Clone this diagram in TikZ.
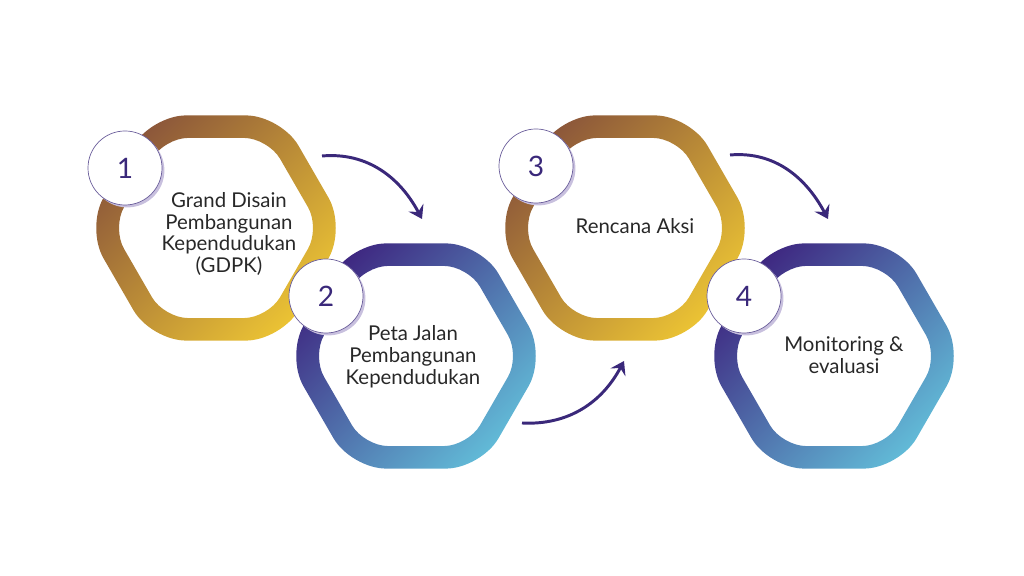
\documentclass[tikz,border=0pt]{standalone}
\usepackage{fontspec}
\setmainfont{Lato}
\usetikzlibrary{arrows.meta,shadows}

\definecolor{ringbrown}{RGB}{139,86,58}
\definecolor{ringgold}{RGB}{236,196,52}
\definecolor{ringpurple}{RGB}{62,38,128}
\definecolor{ringblue}{RGB}{98,188,216}
\definecolor{numpurple}{RGB}{58,40,122}
\definecolor{shadowlav}{RGB}{200,192,222}
\definecolor{txtgray}{RGB}{40,40,40}

% hexagon ring: centre x, centre y, colour top left, colour bottom right
\newcommand{\hexring}[4]{%
	\begin{scope}[shift={(#1,#2)}]
		\shade[even odd rule, top color=#3, bottom color=#4, shading angle=45]
			[rounded corners=0.875cm] (0:130) -- (60:130) -- (120:130) -- (180:130) -- (240:130) -- (300:130) -- cycle
			[rounded corners=0.6cm] (0:104) -- (60:104) -- (120:104) -- (180:104) -- (240:104) -- (300:104) -- cycle;
	\end{scope}}

\tikzset{
	numcirc/.style={circle, fill=white, draw=numpurple!75, line width=0.5pt, minimum size=1.85cm, inner sep=0pt,
		text=numpurple, font=\fontsize{20}{20}\selectfont,
		drop shadow={shadow xshift=0.06cm, shadow yshift=-0.06cm, fill=shadowlav, opacity=1}},
	hextext/.style={align=center, text=txtgray, font=\fontsize{14.5}{15.6}\selectfont},
	flow/.style={line width=2.1pt, draw=numpurple, -{Stealth[length=3.2mm, width=4.2mm, inset=1.2mm]}}
}

\begin{document}
\begin{tikzpicture}[x=0.025cm, y=0.025cm]
	\useasboundingbox (0,0) rectangle (1024,576);
	%ringe
	\hexring{216}{348}{ringbrown}{ringgold}
	\hexring{416}{220}{ringpurple}{ringblue}
	\hexring{625}{348}{ringbrown}{ringgold}
	\hexring{834}{220}{ringpurple}{ringblue}
	%pfeile
	\coordinate (a1s) at (322,420);
	\coordinate (a1e) at (422,357);
	\coordinate (a2s) at (522,153);
	\coordinate (a2e) at (624,215);
	\coordinate (a3s) at (730,421);
	\coordinate (a3e) at (828,357);
	\draw[flow] (a1s) to[out=5, in=118] (a1e);
	\draw[flow] (a2s) to[out=-3, in=-118] (a2e);
	\draw[flow] (a3s) to[out=5, in=118] (a3e);
	%nummern
	\node[numcirc] (n1) at (125,408) {1};
	\node[numcirc] (n2) at (326,280) {2};
	\node[numcirc] (n3) at (536,410) {3};
	\node[numcirc] (n4) at (744,280) {4};
	%texte
	\node[hextext] (t1) at (229,342) {Grand Disain\\Pembangunan\\Kependudukan\\(GDPK)};
	\node[hextext] (t2) at (413,219) {Peta Jalan\\Pembangunan\\Kependudukan};
	\node[hextext] (t3) at (635,350) {Rencana Aksi};
	\node[hextext] (t4) at (844,221) {Monitoring \&\\evaluasi};
\end{tikzpicture}
\end{document}
